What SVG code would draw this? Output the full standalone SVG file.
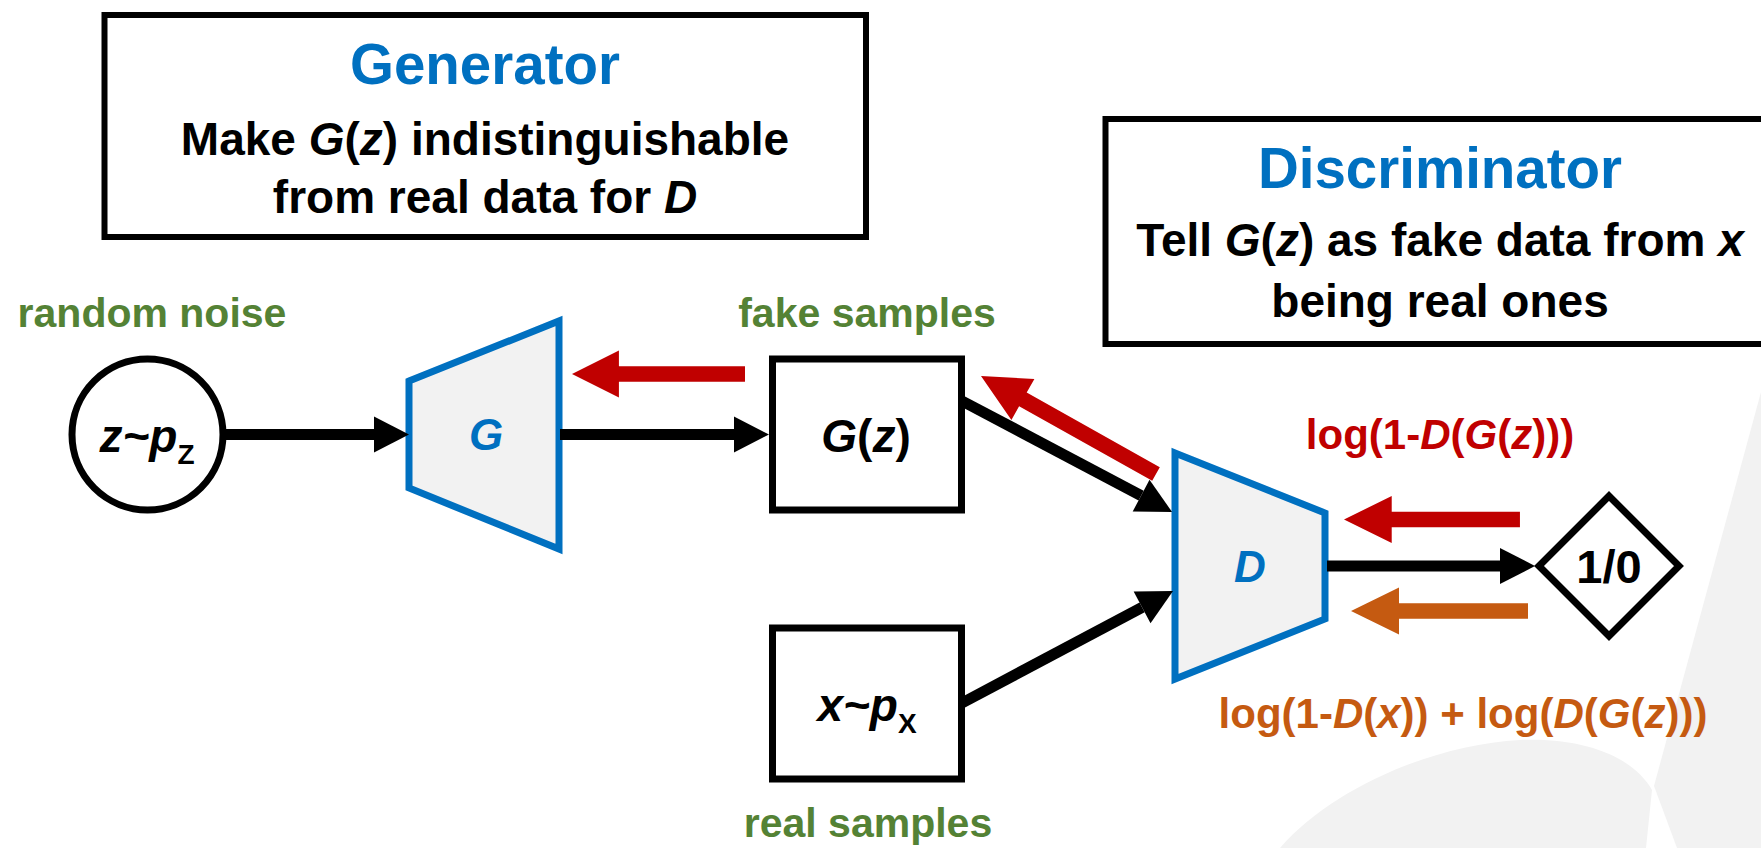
<svg xmlns="http://www.w3.org/2000/svg" width="1761" height="848" viewBox="0 0 1761 848">
<style>
text{font-family:"Liberation Sans",Arial,sans-serif;font-weight:bold;text-anchor:middle}
.it{font-style:italic}
.title{font-size:56.5px;fill:#0070C0}
.body{font-size:46px;fill:#000}
.lbl{font-size:41px;fill:#548235}
.node{font-size:46px;fill:#000}
.sub{font-size:28px;font-style:normal}
.box{fill:#fff;stroke:#000;stroke-width:6}
.nbox{fill:#fff;stroke:#000;stroke-width:7}
.trap{fill:#F2F2F2;stroke:#0070C0;stroke-width:7;stroke-linejoin:miter}
.net{font-size:44px;fill:#0070C0;font-style:italic}
.conn{stroke:#000;stroke-width:11;fill:none;marker-end:url(#ah)}
.red{fill:#C00000}
.org{fill:#C55A11}
.wm{fill:#F2F2F2}
</style>
<defs>
<marker id="ah" markerUnits="userSpaceOnUse" markerWidth="36" markerHeight="36" refX="0" refY="18" orient="auto" overflow="visible">
<path d="M0,0 L35,18 L0,36 Z" fill="#000"/>
</marker>
<path id="fat" d="M0,0 L48,-23.5 L48,-7.75 L177,-7.75 L177,7.75 L48,7.75 L48,23.5 Z"/>
</defs>

<g id="watermark">
<path class="wm" d="M1761,392 L1654,786 L1677,848 L1761,848 Z"/>
<path class="wm" d="M1280,848 C1330,790 1430,745 1520,740 C1590,737 1635,760 1652,790 L1646,848 Z"/>
</g>

<g id="generator-box">
<rect class="box" x="104.5" y="15" width="761.5" height="222"/>
<text class="title" x="485" y="84">Generator</text>
<text class="body" x="485" y="155">Make <tspan class="it">G</tspan>(<tspan class="it">z</tspan>) indistinguishable</text>
<text class="body" x="485" y="213">from real data for <tspan class="it">D</tspan></text>
</g>

<g id="discriminator-box">
<rect class="box" x="1105.5" y="119" width="666" height="225"/>
<text class="title" x="1440" y="188">Discriminator</text>
<text class="body" x="1440" y="256">Tell <tspan class="it">G</tspan>(<tspan class="it">z</tspan>) as fake data from <tspan class="it">x</tspan></text>
<text class="body" x="1440" y="317">being real ones</text>
</g>

<g id="noise">
<text class="lbl" x="152" y="327">random noise</text>
<circle class="nbox" cx="147.5" cy="434.5" r="75.5"/>
<text class="node" x="147" y="452"><tspan class="it">z~p</tspan><tspan class="sub" dy="12">Z</tspan></text>
</g>

<g id="G">
<polygon class="trap" points="409,381 559,321 559,549 409,488"/>
<text class="net" x="486" y="450">G</text>
</g>

<g id="Gz">
<text class="lbl" x="867" y="327">fake samples</text>
<rect class="nbox" x="772.5" y="359" width="189" height="151"/>
<text class="node" x="866" y="452"><tspan class="it">G</tspan>(<tspan class="it">z</tspan>)</text>
</g>

<g id="real">
<rect class="nbox" x="772.5" y="628" width="189" height="151"/>
<text class="node" x="867" y="721"><tspan class="it">x~p</tspan><tspan class="sub" dy="12">X</tspan></text>
<text class="lbl" x="868" y="837">real samples</text>
</g>

<g id="D">
<polygon class="trap" points="1175,453 1325,513 1325,619 1175,679"/>
<text class="net" x="1250" y="582">D</text>
</g>

<g id="output">
<polygon fill="#fff" stroke="#000" stroke-width="7" points="1609,496 1679,566 1609,636 1539,566"/>
<text x="1609" y="583" style="font-size:47px;fill:#000">1/0</text>
</g>

<g id="loss-labels">
<text x="1440" y="449" style="font-size:42px;fill:#C00000">log(1-<tspan class="it">D</tspan>(<tspan class="it">G</tspan>(<tspan class="it">z</tspan>)))</text>
<text x="1463" y="728" style="font-size:42px;fill:#C55A11">log(1-<tspan class="it">D</tspan>(<tspan class="it">x</tspan>)) + log(<tspan class="it">D</tspan>(<tspan class="it">G</tspan>(<tspan class="it">z</tspan>)))</text>
</g>

<g id="connectors">
<line class="conn" x1="226" y1="434.5" x2="374" y2="434.5"/>
<line class="conn" x1="560" y1="434.5" x2="734" y2="434.5"/>
<line class="conn" x1="962" y1="401" x2="1141.1" y2="495.6"/>
<line class="conn" x1="962" y1="703" x2="1142.1" y2="607.4"/>
<line class="conn" x1="1327" y1="566" x2="1500" y2="566"/>
<use href="#fat" class="red" transform="translate(572,374) scale(0.9774,1)"/>
<polygon class="red" points="1159.8,467.2 1026.7,392.6 1034.4,378.9 981,376 1011.4,419.9 1019.1,406.2 1152.2,480.8"/>
<use href="#fat" class="red" transform="translate(1344,519.5) scale(0.994,1)"/>
<use href="#fat" class="org" transform="translate(1351,611)"/>
</g>
</svg>
